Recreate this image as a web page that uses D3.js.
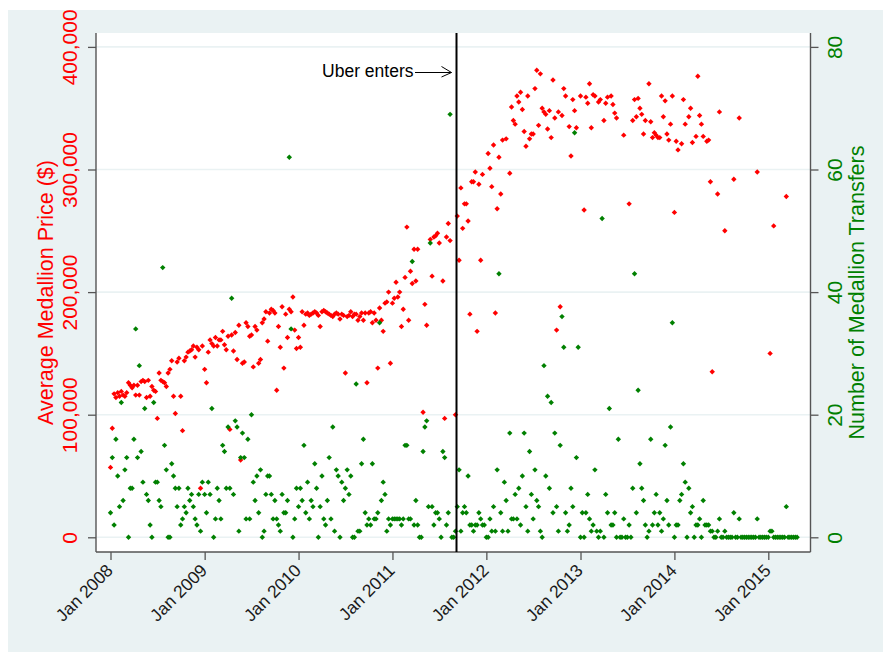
<!DOCTYPE html>
<html lang="en">
<head>
<meta charset="UTF-8">
<title>Medallion prices and transfers</title>
<style>
  body { margin: 0; background: #fff; }
  text { font-family: Arial, "Liberation Sans", sans-serif; }
</style>
</head>
<body>
<div id="container"></div>
<script src="https://cdn.jsdelivr.net/npm/d3@7"></script>
<script>
// weekly average medallion price, in thousands of $ (null = no sale that week)
const price2008 = [57,89,117,114,118,115,119,116,115,118, 126,124,122,124,116,124,116,127,128,127,
  114,128,115,123,120,119,97,134,128,127, 126,123,134,137,144,115,101,143,146,115,
  87,144,147,151,152,153,156,147,155,153, 40,156]
const price2009 = [137,126,151,161,158,156,163,156,161,161, 168,157,153,164,88,165,152,167,145,173,
  63,142,143,175,172,164,165,139,172,169, 142,145,175,178,184,160,183,186,185,183,
  120,172,155,188,138,182,163,186,184,196, 169,154]
const price2010 = [163,155,184,173,182,183,181,182,183,184, 183,181,172,184,185,184,183,182,181,180,
  182,183,182,178,182,181,134,180,181,184, 180,182,182,177,180,183,177,183,126,183,
  184,175,183,177,138,187,177,168,191,192, 200,142]
const price2011 = [191,195,208,196,200,172,186,212,253,177, 217,207,235,209,235,null,null,102,190,173,
  null,243,213,245,246,248,240,null,209,97, 245,256,242,null,null,100,262,226,285,252,
  272,272,258,182,290,290,298,168,288,226, 296,null]
const price2012 = [null,313,301,286,320,183,268,310,280,324, null,325,null,297,351,340,337,360,355,363,
  349,331,319,360,325,329,329,366,381,336, 378,350,347,345,333,348,326,373,342,169,
  347,188,344,366,360,null,335,311,357,348, 334,null]
const price2013 = [360,null,267,359,354,370,334,361,360,null, 355,357,null,340,354,359,null,360,353,346,
  342,null,null,null,328,null,null,272,null,340, 357,343,358,350,345,329,340,null,370,339,
  326,330,328,326,326,360,343,356,329,324, 337,360]
const price2014 = [265,323,316,null,321,357,337,null,343,350, 322,null,327,376,344,337,327,null,323,324,
  290,135,null,null,280,347,null,null,250,null, null,null,null,292,null,null,342,null,null,null,
  null,null,null,null,null,null,298,null,null,null, null,null]
const price2015 = [null,150,null,254,null,null,null,null,null,null, 278,null,null,null,null,null,null]

// weekly number of medallion transfers
const transfers2008 = [4,13,2,16,10,5,22,6,11,13, 0,8,8,16,34,13,28,14,9,21, 7,6,2,0,22,9,9,6,5,44,
  15,11,0,0,12,10,8,5,8,2, 3,5,4,8,6,7,5,3,2,7, 1,9]
const transfers2009 = [7,4,9,7,21,0,3,8,6,3, 15,14,8,18,8,39,7,19,18,1, 13,17,13,3,16,3,20,9,6,10,
  4,11,0,1,7,10,10,7,3,6, 3,2,1,7,4,4,6,62,34,0, 3,8]
const transfers2010 = [5,8,6,15,4,9,3,6,5,12, 8,0,5,10,3,2,6,13,3,18, 1,11,10,0,9,6,8,11,7,10,
  0,0,25,1,1,12,16,4,2,3, 2,12,3,3,4,35,6,9,7,1, 3,2]
const transfers2011 = [3,3,3,3,3,2,3,15,15,3, 3,45,2,6,2,0,0,14,18,19, 5,48,5,2,4,4,3,0,14,13,
  2,4,69,0,0,1,5,11,1,4, 5,4,10,2,2,1,2,2,4,3, 2,2]
const transfers2012 = [0,0,3,1,5,1,11,43,4,1, 9,6,1,17,3,3,7,3,8,2, 10,17,5,1,14,7,3,11,6,5,
  1,0,28,10,23,8,22,4,17,5, 1,15,36,31,4,1,2,8,5,66, 13,31]
const transfers2013 = [0,4,0,4,7,3,1,2,11,1, 0,1,52,0,7,4,21,2,2,4, 0,16,0,0,3,0,0,2,0,8,
  43,4,24,12,8,6,2,0,1,16, 2,4,7,2,4,1,3,15,6,2, 18,35]
const transfers2014 = [0,2,2,6,7,12,9,0,8,4, 5,0,2,2,3,0,6,2,2,2, 1,1,0,0,1,3,0,0,1,0,
  0,0,0,4,0,0,3,0,0,0, 0,0,0,0,0,0,3,0,0,0, 0,0]
const transfers2015 = [0,1,1,0,0,0,0,0,0,0, 5,0,0,0,0,0,0]

const years = [2008, 2009, 2010, 2011, 2012, 2013, 2014, 2015]
const priceByYear = [price2008, price2009, price2010, price2011, price2012, price2013, price2014, price2015]
const transfersByYear = [transfers2008, transfers2009, transfers2010, transfers2011,
  transfers2012, transfers2013, transfers2014, transfers2015]

const priceTicks = [0, 100000, 200000, 300000, 400000]
const transferTicks = [0, 20, 40, 60, 80]
const uberDate = new Date(2011, 8, 7)
const uberLabel = 'Uber enters'

/* flatten weekly values into points */

function weekly(byYear, scale) {
    const out = []
    byYear.forEach((vals, i) => {
        vals.forEach((v, w) => {
            if (v === null) return
            out.push({date: new Date(years[i], 0, 1 + 7 * w), value: v * scale})
        })
    })
    return out
}

const pricePoints = weekly(priceByYear, 1000)
const transferPoints = weekly(transfersByYear, 1)

/* chart */

const width = 883
const height = 652
const plotLeft = 96
const plotRight = 810.5
const plotTop = 33
const plotBottom = 552

const bgColor = '#eaf2f3'
const axisColor = '#555'
const red = '#ff0000'
const green = '#008000'

const x = d3.scaleTime()
    .domain([new Date(2008, 0, 1), new Date(2015, 0, 1)])
    .range([110.5, 768.3])
const yPrice = d3.scaleLinear().domain([0, 400000]).range([537.3, 46.9])
const yCount = d3.scaleLinear().domain([0, 80]).range([537.3, 46.9])

const svg = d3.select('#container').append('svg')
    .attr('width', width)
    .attr('height', height)

svg.append('rect').attr('width', width).attr('height', height).attr('fill', '#fff')
svg.append('rect')
    .attr('x', 8).attr('y', 10)
    .attr('width', width - 8).attr('height', height - 10)
    .attr('fill', bgColor)
svg.append('rect')
    .attr('x', plotLeft).attr('y', plotTop)
    .attr('width', plotRight - plotLeft).attr('height', plotBottom - plotTop)
    .attr('fill', '#fff')

// grid
svg.append('g')
    .selectAll('line')
    .data(priceTicks)
    .enter()
    .append('line')
    .attr('x1', plotLeft).attr('x2', plotRight)
    .attr('y1', d => yPrice(d)).attr('y2', d => yPrice(d))
    .attr('stroke', bgColor)
    .attr('stroke-width', 1.6)

// left axis
const leftAxis = svg.append('g')
    .attr('transform', `translate(${plotLeft},0)`)
    .call(d3.axisLeft(yPrice).tickValues(priceTicks).tickSize(8).tickFormat(d3.format(',')))
leftAxis.select('.domain').remove()
leftAxis.selectAll('.tick line').attr('stroke', axisColor).attr('stroke-width', 1.3)
leftAxis.selectAll('.tick text')
    .attr('x', null).attr('dy', null)
    .attr('transform', 'translate(-19,0) rotate(-90)')
    .attr('text-anchor', 'middle')
    .attr('fill', red)
    .attr('font-size', '21px')
    .attr('font-family', 'Arial, "Liberation Sans", sans-serif')

// right axis
const rightAxis = svg.append('g')
    .attr('transform', `translate(${plotRight},0)`)
    .call(d3.axisRight(yCount).tickValues(transferTicks).tickSize(8))
rightAxis.select('.domain').remove()
rightAxis.selectAll('.tick line').attr('stroke', axisColor).attr('stroke-width', 1.3)
rightAxis.selectAll('.tick text')
    .attr('x', null).attr('dy', null)
    .attr('transform', 'translate(31,0) rotate(-90)')
    .attr('text-anchor', 'middle')
    .attr('fill', green)
    .attr('font-size', '21px')
    .attr('font-family', 'Arial, "Liberation Sans", sans-serif')

// bottom axis
const bottomAxis = svg.append('g')
    .attr('transform', `translate(0,${plotBottom})`)
    .call(d3.axisBottom(x).ticks(d3.timeYear.every(1)).tickSize(8).tickFormat(d3.timeFormat('Jan %Y')))
bottomAxis.select('.domain').remove()
bottomAxis.selectAll('.tick line').attr('stroke', axisColor).attr('stroke-width', 1.3)
bottomAxis.selectAll('.tick text')
    .attr('y', null).attr('dy', null)
    .attr('transform', 'translate(3,19.5) rotate(-45)')
    .attr('text-anchor', 'end')
    .attr('fill', '#1a1a1a')
    .attr('font-size', '17.5px')
    .attr('font-family', 'Arial, "Liberation Sans", sans-serif')

// axis lines
const axisLines = [
    [plotLeft, plotTop, plotLeft, plotBottom],
    [plotRight, plotTop, plotRight, plotBottom],
    [plotLeft, plotBottom, plotRight, plotBottom]
]
svg.append('g')
    .selectAll('line')
    .data(axisLines)
    .enter()
    .append('line')
    .attr('x1', d => d[0]).attr('y1', d => d[1])
    .attr('x2', d => d[2]).attr('y2', d => d[3])
    .attr('stroke', axisColor)
    .attr('stroke-width', 1.4)

// axis titles
svg.append('text')
    .attr('transform', `translate(52.5,${(plotTop + plotBottom) / 2}) rotate(-90)`)
    .attr('text-anchor', 'middle')
    .attr('font-size', '21.5px')
    .attr('fill', red)
    .text('Average Medallion Price ($)')
svg.append('text')
    .attr('transform', `translate(864,${(plotTop + plotBottom) / 2}) rotate(-90)`)
    .attr('text-anchor', 'middle')
    .attr('font-size', '21.5px')
    .attr('fill', green)
    .text('Number of Medallion Transfers')

// markers
const diamond = 'M0,-2.7L2.7,0L0,2.7L-2.7,0Z'

svg.append('g')
    .selectAll('path')
    .data(pricePoints)
    .enter()
    .append('path')
    .attr('d', diamond)
    .attr('transform', d => `translate(${x(d.date)},${yPrice(d.value)})`)
    .attr('fill', red)

svg.append('g')
    .selectAll('path')
    .data(transferPoints)
    .enter()
    .append('path')
    .attr('d', diamond)
    .attr('transform', d => `translate(${x(d.date)},${yCount(d.value)})`)
    .attr('fill', green)

// Uber entry
const ux = x(uberDate)
svg.append('line')
    .attr('x1', ux).attr('x2', ux)
    .attr('y1', plotTop).attr('y2', plotBottom)
    .attr('stroke', '#000')
    .attr('stroke-width', 2)

const ay = 72.5
svg.append('text')
    .attr('x', 413.5).attr('y', 76.5)
    .attr('text-anchor', 'end')
    .attr('font-size', '17.5px')
    .attr('fill', '#000')
    .text(uberLabel)
svg.append('path')
    .attr('d', `M415,${ay}H${ux - 5}M${ux - 15},${ay - 6}L${ux - 5},${ay}L${ux - 15},${ay + 4.5}`)
    .attr('fill', 'none')
    .attr('stroke', '#000')
    .attr('stroke-width', 1)
</script>
</body>
</html>
